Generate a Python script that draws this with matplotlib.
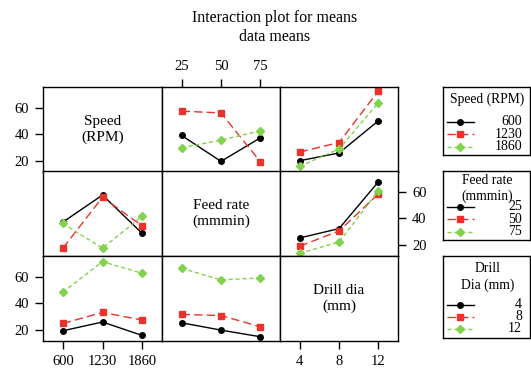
import matplotlib
matplotlib.use('Agg')
import matplotlib.pyplot as plt
import numpy as np

plt.rcParams['font.family'] = ['Liberation Serif', 'DejaVu Serif']

## factor levels
speed_levels = ['600', '1230', '1860']
feed_levels = ['25', '50', '75']
dia_levels = ['4', '8', '12']

## means, one row per line (legend factor), one column per x level
speed_vs_feed = [[39.0, 19.5, 37.2],
                 [57.3, 56.0, 19.2],
                 [29.7, 35.5, 42.5]]
speed_vs_dia = [[20.0, 25.8, 50.0],
                [26.5, 33.7, 72.5],
                [15.7, 28.8, 63.7]]
feed_vs_speed = [[37.0, 57.4, 28.5],
                 [17.4, 55.7, 34.2],
                 [36.0, 17.4, 41.4]]
feed_vs_dia = [[25.1, 32.1, 67.3],
               [18.9, 30.3, 58.2],
               [13.5, 22.0, 60.5]]
dia_vs_speed = [[19.2, 25.8, 15.7],
                [24.7, 33.0, 27.3],
                [48.3, 71.2, 62.5]]
dia_vs_feed = [[25.2, 19.7, 14.7],
               [31.5, 30.7, 22.2],
               [66.2, 57.5, 59.0]]

names = ['Speed\n(RPM)', 'Feed rate\n(mmmin)', 'Drill dia\n(mm)']
legend_titles = ['Speed (RPM)', 'Feed rate\n(mmmin)', 'Drill\nDia (mm)']
levels = [speed_levels, feed_levels, dia_levels]
panels = {(0, 1): speed_vs_feed, (0, 2): speed_vs_dia,
          (1, 0): feed_vs_speed, (1, 2): feed_vs_dia,
          (2, 0): dia_vs_speed, (2, 1): dia_vs_feed}

colors = ['black', '#e8332a', '#82d34c']
markers = ['o', 's', 'D']
msizes = [4.0, 4.4, 4.4]
dashes = [None, (6, 3), (3, 2)]

W, H = 531.0, 373.0
fig = plt.figure(figsize=(W / 100, H / 100), dpi=100)

col_x = [43, 162, 280]
col_w = [119, 118, 118]
row_y = [87, 171, 256]
row_h = 85

def rect(x, y, w, h):
    return [x / W, 1 - (y + h) / H, w / W, h / H]

def style_line(ln, k):
    ln.set_color(colors[k])
    ln.set_marker(markers[k])
    ln.set_markersize(msizes[k])
    ln.set_linewidth(1.0)
    if dashes[k] is not None:
        ln.set_dashes(dashes[k])

########## grid of panels ##########
for i in range(3):
    for j in range(3):
        ax = fig.add_axes(rect(col_x[j], row_y[i], col_w[j], row_h))
        ax.set_xlim(-0.5, 2.5)
        ax.set_ylim(11.5, 75.5)
        for s in ax.spines.values():
            s.set_linewidth(1.0)
        ax.tick_params(which='both', left=False, bottom=False, labelleft=False,
                       labelbottom=False, direction='out', length=6,
                       width=1.0, labelsize=10.5, pad=4)
        if i == j:
            ax.text(0.5, 0.5, names[i], ha='center', va='center',
                    fontsize=11, transform=ax.transAxes, linespacing=1.3)
        else:
            x = np.arange(3)
            for k, ys in enumerate(panels[(i, j)]):
                ln, = ax.plot(x, ys)
                style_line(ln, k)
        ## outer ticks like the reference
        ax.set_xticks(range(3))
        ax.set_xticklabels(levels[j])
        ax.set_yticks([20, 40, 60])
        if j == 0 and i in (0, 2):
            ax.tick_params(left=True, labelleft=True)
        if i == 1 and j == 2:
            ax.yaxis.tick_right()
            ax.tick_params(right=True, labelright=True)
        if i == 0 and j == 1:
            ax.xaxis.tick_top()
            ax.tick_params(top=True, labeltop=True)
        if i == 2 and j in (0, 2):
            ax.tick_params(bottom=True, labelbottom=True)

########## legends ##########
leg_top = [87, 171, 256]
leg_h = [68, 69, 82]
title_y = [12, 17.5, 21]
entry_y = [[34.7, 47, 59.7], [35.7, 48.3, 60.7], [49, 60.7, 73]]
for i in range(3):
    lax = fig.add_axes(rect(443, leg_top[i], 87, leg_h[i]))
    lax.set_xlim(0, 87)
    lax.set_ylim(leg_h[i], 0)
    lax.set_xticks([])
    lax.set_yticks([])
    for s in lax.spines.values():
        s.set_linewidth(1.0)
    lax.text(44.5, title_y[i], legend_titles[i], ha='center', va='center',
             fontsize=9.8, linespacing=1.3)
    for k in range(3):
        yy = entry_y[i][k]
        ln, = lax.plot([4, 17, 31], [yy, yy, yy], markevery=[1])
        style_line(ln, k)
        lax.text(79, yy, levels[i][k], ha='right', va='center', fontsize=10)

fig.text(275 / W, 1 - 18 / H, 'Interaction plot for means', ha='center',
         va='center', fontsize=11.5)
fig.text(275 / W, 1 - 37 / H, 'data means', ha='center', va='center',
         fontsize=11.5)

fig.savefig('out.png', dpi=100)
